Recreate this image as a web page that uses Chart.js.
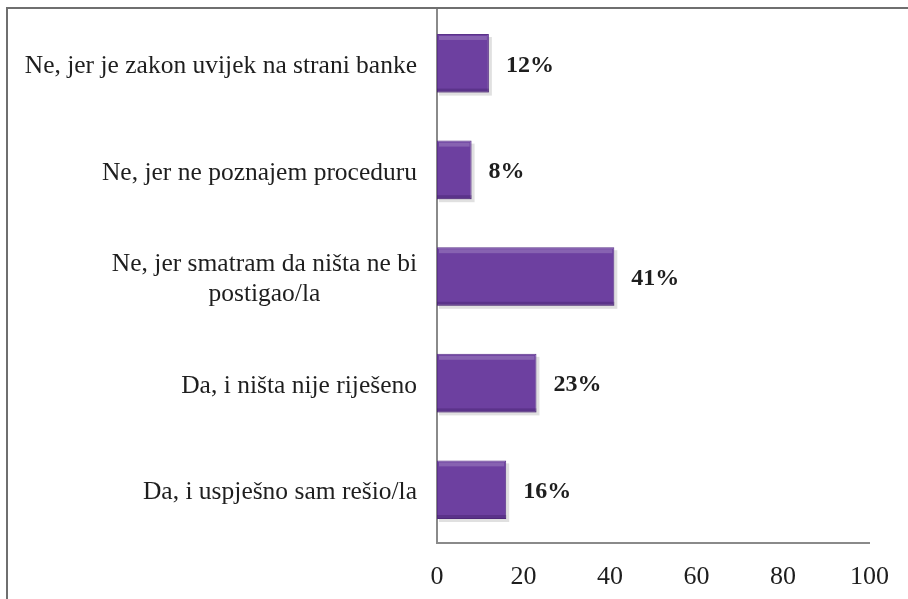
<!DOCTYPE html>
<html>
<head>
<meta charset="utf-8">
<script src="https://cdn.jsdelivr.net/npm/chart.js@4"></script>
<style>
  body { margin: 0; background: #fff; }
  canvas { display: block; }
</style>
</head>
<body>
<canvas id="barChart" width="908" height="599"></canvas>
<script>
const categories = [
    ['Ne, jer je zakon uvijek na strani banke'],
    ['Ne, jer ne poznajem proceduru'],
    ['Ne, jer smatram da ništa ne bi', 'postigao/la'],
    ['Da, i ništa nije riješeno'],
    ['Da, i uspješno sam rešio/la']
];
const values = [12, 8, 41, 23, 16];
const xTicks = [0, 20, 40, 60, 80, 100];

const serif = "'Liberation Serif', 'Times New Roman', serif";

// frame lines at top and left of the picture
const framePlugin = {
    id: 'frame',
    beforeDraw(chart) {
        const ctx = chart.ctx;
        ctx.save();
        ctx.fillStyle = '#fff';
        ctx.fillRect(0, 0, chart.width, chart.height);
        ctx.strokeStyle = '#6f6f6f';
        ctx.lineWidth = 2;
        ctx.beginPath();
        ctx.moveTo(7, chart.height);
        ctx.lineTo(7, 8);
        ctx.lineTo(chart.width, 8);
        ctx.stroke();
        ctx.restore();
    }
};

// bevel look on the bars + value labels
const barPlugin = {
    id: 'barLook',
    beforeDatasetsDraw(chart) {
        const ctx = chart.ctx;
        ctx.save();
        chart.getDatasetMeta(0).data.forEach(bar => {
            const top = bar.y - bar.height / 2;
            ctx.fillStyle = 'rgba(0,0,0,0.12)';
            ctx.fillRect(bar.base + 2, top + 3, bar.x - bar.base + 1, bar.height);
        });
        ctx.restore();
    },
    afterDatasetsDraw(chart) {
        const ctx = chart.ctx;
        ctx.save();
        chart.getDatasetMeta(0).data.forEach((bar, i) => {
            const top = bar.y - bar.height / 2;
            const w = bar.x - bar.base;
            ctx.fillStyle = 'rgba(255,255,255,0.18)';
            ctx.fillRect(bar.base + 2, top + 2, w - 4, 4);
            ctx.fillStyle = 'rgba(40,10,70,0.25)';
            ctx.fillRect(bar.base, top + bar.height - 4, w, 4);

            ctx.fillStyle = '#1e1e1e';
            ctx.font = 'bold 24px ' + serif;
            ctx.textAlign = 'left';
            ctx.textBaseline = 'middle';
            ctx.fillText(values[i] + '%', bar.x + 17, bar.y + 2);
        });
        ctx.restore();
    }
};

// category labels, multi-line ones centred as a block
const catPlugin = {
    id: 'catLabels',
    afterDraw(chart) {
        const ctx = chart.ctx;
        const y = chart.scales.y;
        const right = 417;
        const lineH = 30;
        ctx.save();
        ctx.font = '25.5px ' + serif;
        ctx.fillStyle = '#1e1e1e';
        ctx.textAlign = 'center';
        ctx.textBaseline = 'middle';
        categories.forEach((lines, i) => {
            const cy = y.getPixelForTick(i) + 3;
            const w = Math.max(...lines.map(l => ctx.measureText(l).width));
            const cx = right - w / 2;
            const y0 = cy - (lines.length - 1) * lineH / 2;
            lines.forEach((l, k) => ctx.fillText(l, cx, y0 + k * lineH));
        });
        ctx.restore();
    }
};

const barChart = document.getElementById('barChart');

new Chart(barChart, {
    type: 'bar',
    data: {
        labels: categories,
        datasets: [{
            data: values,
            backgroundColor: '#6d40a0',
            borderColor: '#5b3289',
            borderWidth: 1,
            borderSkipped: false,
            barPercentage: 0.55,
            categoryPercentage: 1
        }]
    },
    options: {
        indexAxis: 'y',
        responsive: false,
        animation: false,
        layout: { padding: { top: 10, right: 38, left: 0, bottom: 0 } },
        plugins: {
            legend: { display: false },
            tooltip: { enabled: false }
        },
        scales: {
            x: {
                min: 0,
                max: 100,
                afterBuildTicks: scale => { scale.ticks = xTicks.map(v => ({ value: v })); },
                afterFit: scale => { scale.height = 56; },
                grid: { display: false, drawTicks: false },
                border: { display: true, color: '#8a8a8a', width: 2 },
                ticks: {
                    padding: 19,
                    color: '#1e1e1e',
                    font: { family: serif, size: 26 }
                }
            },
            y: {
                afterFit: scale => { scale.width = 437; },
                grid: { display: false, drawTicks: false },
                border: { display: true, color: '#8a8a8a', width: 2 },
                ticks: { display: false }
            }
        }
    },
    plugins: [framePlugin, barPlugin, catPlugin]
});
</script>
</body>
</html>
